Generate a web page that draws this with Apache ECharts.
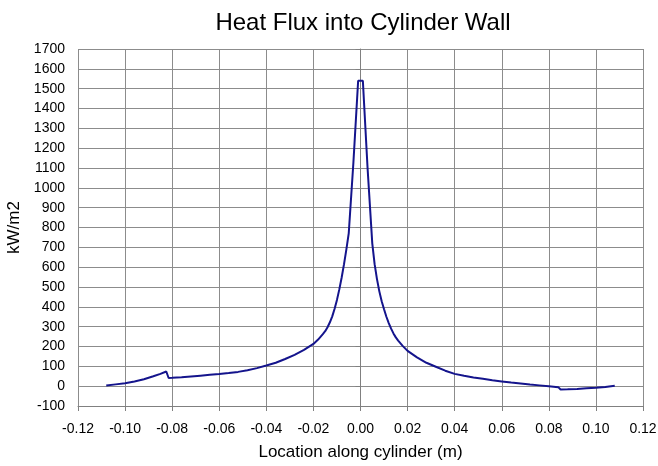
<!DOCTYPE html>
<html>
<head>
<meta charset="utf-8">
<title>Heat Flux into Cylinder Wall</title>
<script src="https://cdn.jsdelivr.net/npm/echarts@6/dist/echarts.min.js"></script>
<style>
  html, body { margin: 0; padding: 0; background: #fff; }
  #chart { width: 658px; height: 466px; }
</style>
</head>
<body>
<div id="chart"></div>
<script>
// location along cylinder (m)
var location_m = [
  -0.108, -0.104, -0.100, -0.096, -0.092, -0.088, -0.085, -0.0825, -0.0815, -0.080,
  -0.076, -0.072, -0.068, -0.064, -0.060, -0.056, -0.052, -0.048, -0.044, -0.040,
  -0.036, -0.032, -0.028, -0.024, -0.020, -0.018, -0.016, -0.015, -0.014, -0.013,
  -0.012, -0.011, -0.010, -0.009, -0.008, -0.007, -0.006, -0.005, -0.003, -0.001,
  0.001, 0.003, 0.005, 0.006, 0.007, 0.008, 0.009, 0.010, 0.011, 0.012,
  0.013, 0.014, 0.015, 0.016, 0.018, 0.020, 0.024, 0.028, 0.032, 0.036,
  0.040, 0.044, 0.048, 0.052, 0.056, 0.060, 0.064, 0.068, 0.072, 0.076,
  0.080, 0.084, 0.085, 0.088, 0.092, 0.096, 0.100, 0.104, 0.108
]
// heat flux (kW/m2)
var heatFlux = [
  3, 9, 15, 24, 35, 50, 62, 74, 41, 42,
  45, 49, 53, 57, 61, 66, 72, 80, 91, 104,
  118, 137, 158, 183, 213, 235, 262, 277, 297, 322,
  352, 390, 435, 488, 548, 615, 690, 770, 1130, 1540,
  1540, 1100, 720, 615, 540, 478, 428, 388, 350, 318,
  290, 266, 246, 230, 202, 178, 145, 118, 98, 78,
  62, 52, 44, 37, 30, 24, 18, 13, 8, 4,
  0, -5, -17, -16, -14, -11, -8, -4, 2
]

var chart = echarts.init(document.getElementById('chart'))
var font = 'Liberation Sans, Arial, sans-serif'

var option = {
  animation: false,
  title: {
    text: 'Heat Flux into Cylinder Wall',
    left: 358,
    top: 6,
    textAlign: 'center',
    textStyle: { fontFamily: font, fontSize: 24, fontWeight: 'normal', color: '#000' }
  },
  grid: { left: 78, right: 15, top: 49, bottom: 60, containLabel: false, outerBoundsMode: 'none' },
  xAxis: {
    type: 'value',
    min: -0.12,
    max: 0.12,
    interval: 0.02,
    name: 'Location along cylinder (m)',
    nameLocation: 'middle',
    nameGap: 38,
    nameTextStyle: { fontFamily: font, fontSize: 17, color: '#000' },
    axisLine: { onZero: false, lineStyle: { color: '#808080', width: 1 } },
    axisTick: { show: true, inside: false, length: 5, lineStyle: { color: '#808080' } },
    axisLabel: {
      fontFamily: font, fontSize: 14, color: '#000', margin: 16,
      formatter: function (v) { return v.toFixed(2) }
    },
    splitLine: { show: true, lineStyle: { color: '#8c8c8c', width: 1 } }
  },
  yAxis: {
    type: 'value',
    min: -100,
    max: 1700,
    interval: 100,
    name: 'kW/m2',
    nameLocation: 'middle',
    nameGap: 46,
    nameTextStyle: { fontFamily: font, fontSize: 17, color: '#000' },
    axisLine: { show: true, lineStyle: { color: '#808080', width: 1 } },
    axisTick: { show: true, inside: false, length: 5, lineStyle: { color: '#808080' } },
    axisLabel: {
      fontFamily: font, fontSize: 14, color: '#000', margin: 13,
      formatter: function (v) { return String(v) }
    },
    splitLine: { show: true, lineStyle: { color: '#8c8c8c', width: 1 } }
  },
  series: [
    {
      type: 'line',
      data: location_m.map(function (x, i) { return [x, heatFlux[i]] }),
      showSymbol: false,
      smooth: false,
      lineStyle: { color: '#14148c', width: 2 }
    }
  ]
}
chart.setOption(option)
</script>
</body>
</html>
